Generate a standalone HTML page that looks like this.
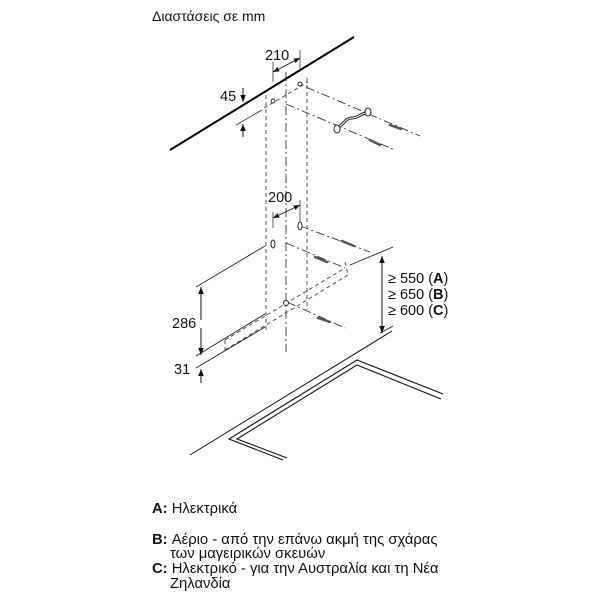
<!DOCTYPE html>
<html><head><meta charset="utf-8"><style>
html,body{margin:0;padding:0;background:#fff;}
svg{display:block;}
text{font-family:"Liberation Sans",sans-serif;fill:#111;}
</style></head><body>
<svg width="600" height="600" viewBox="0 0 600 600" xmlns="http://www.w3.org/2000/svg">
<defs>
<marker id="ar" viewBox="0 0 10 10" refX="10" refY="5" markerWidth="7" markerHeight="7" orient="auto-start-reverse"><path d="M0,1 L10,5 L0,9z" fill="#111"/></marker>
</defs>
<text x="152" y="21" font-size="14">Διαστάσεις σε mm</text>
<!-- ceiling -->
<line x1="170" y1="150" x2="354" y2="37" stroke="#000" stroke-width="2"/>
<!-- 210 dim -->
<text x="265" y="60" font-size="14.5">210</text>
<line x1="273" y1="62" x2="273" y2="82" stroke="#333" stroke-width="0.8"/>
<line x1="300" y1="50" x2="300" y2="70" stroke="#333" stroke-width="0.8"/>
<line x1="273" y1="72" x2="300" y2="58" stroke="#111" stroke-width="0.9" marker-start="url(#ar)" marker-end="url(#ar)"/>
<!-- 45 -->
<text x="220" y="101" font-size="14.5">45</text>
<line x1="243" y1="88" x2="243" y2="102" stroke="#111" marker-end="url(#ar)"/>
<line x1="243" y1="137" x2="243" y2="124" stroke="#111" marker-end="url(#ar)"/>
<line x1="236" y1="125" x2="262" y2="110" stroke="#333" stroke-width="0.8"/>
<!-- dashed verticals -->
<g stroke="#444" stroke-width="0.9" fill="none" stroke-dasharray="4,3">
<line x1="266" y1="95" x2="266" y2="330"/>
<line x1="307" y1="78" x2="307" y2="310"/>
<line x1="264" y1="108" x2="308" y2="82"/>
<line x1="225" y1="340" x2="345" y2="268"/>
<line x1="225" y1="350" x2="348" y2="275"/>
<line x1="225" y1="340" x2="225" y2="350"/>
<line x1="345" y1="262" x2="348" y2="275"/>
</g>
<!-- center dash-dot -->
<g stroke="#333" stroke-width="0.9" fill="none" stroke-dasharray="9,3,2,3">
<line x1="286" y1="72" x2="286" y2="352"/>
<line x1="286" y1="104" x2="395" y2="150"/>
<line x1="306" y1="87" x2="420" y2="136"/>
<line x1="300" y1="226" x2="370" y2="252"/>
<line x1="286" y1="243" x2="345" y2="268"/>
<line x1="287" y1="302" x2="345" y2="328"/>
</g>
<!-- holes -->
<g fill="#fff" stroke="#222" stroke-width="1">
<ellipse cx="273" cy="101" rx="2" ry="2"/>
<ellipse cx="300" cy="84" rx="2" ry="2"/>
<ellipse cx="273" cy="244" rx="2" ry="4"/>
<ellipse cx="300" cy="226" rx="2" ry="4"/>
<circle cx="286" cy="303" r="2.5"/>
</g>
<!-- screws -->
<g stroke="#555" stroke-width="2.5" stroke-linecap="round">
<line x1="370" y1="140" x2="380" y2="145"/>
<line x1="390" y1="125" x2="401" y2="129"/>
<line x1="342" y1="241" x2="354" y2="246"/>
<line x1="315" y1="257" x2="327" y2="262"/>
<line x1="318" y1="318" x2="330" y2="322"/>
</g>
<!-- bracket -->
<path d="M337,128 C345,124 345,118 352,118 C358,118 360,114 368,112" stroke="#222" stroke-width="3" fill="none"/>
<path d="M337,128 C345,124 345,118 352,118 C358,118 360,114 368,112" stroke="#fff" stroke-width="1" fill="none"/>
<ellipse cx="337" cy="129" rx="3" ry="4" fill="#fff" stroke="#222"/>
<ellipse cx="368" cy="112" rx="3" ry="4" fill="#fff" stroke="#222"/>
<!-- 200 dim -->
<text x="268" y="202" font-size="14.5">200</text>
<line x1="273" y1="212" x2="273" y2="228" stroke="#333" stroke-width="0.8"/>
<line x1="300" y1="200" x2="300" y2="222" stroke="#333" stroke-width="0.8"/>
<line x1="273" y1="218" x2="300" y2="205" stroke="#111" stroke-width="0.9" marker-start="url(#ar)" marker-end="url(#ar)"/>
<!-- hood lines -->
<g stroke="#222" stroke-width="0.9">
<line x1="196" y1="287" x2="265" y2="246"/>
<line x1="350" y1="265" x2="393" y2="247"/>
<line x1="196" y1="356" x2="265" y2="314"/>
<line x1="196" y1="368" x2="265" y2="327"/>
<line x1="380" y1="333" x2="393" y2="326"/>
</g>
<!-- 286 -->
<text x="172" y="328" font-size="14.5">286</text>
<line x1="201" y1="320" x2="201" y2="287" stroke="#111" marker-end="url(#ar)"/>
<line x1="201" y1="328" x2="201" y2="355" stroke="#111" marker-end="url(#ar)"/>
<!-- 31 -->
<text x="174" y="374" font-size="14.5">31</text>
<line x1="201" y1="383" x2="201" y2="369" stroke="#111" marker-end="url(#ar)"/>
<!-- right dim -->
<line x1="382" y1="280" x2="382" y2="256" stroke="#111" marker-end="url(#ar)"/>
<line x1="382" y1="300" x2="382" y2="333" stroke="#111" marker-end="url(#ar)"/>
<line x1="382" y1="270" x2="382" y2="310" stroke="#111"/>
<text x="388" y="283" font-size="14.5">≥ 550 (<tspan font-weight="bold">A</tspan>)</text>
<text x="388" y="299" font-size="14.5">≥ 650 (<tspan font-weight="bold">B</tspan>)</text>
<text x="388" y="315" font-size="14.5">≥ 600 (<tspan font-weight="bold">C</tspan>)</text>
<!-- counter -->
<line x1="190" y1="455" x2="392" y2="331" stroke="#111" stroke-width="1"/>
<g stroke="#111" stroke-width="1.1" fill="none">
<polyline points="283,460 229,439 357,360 443,394"/>
<polyline points="287,458 237,439 357,365 441,399"/>
</g>
<!-- legend -->
<g font-size="14.8">
<text x="152" y="513"><tspan font-weight="bold">A:</tspan> Ηλεκτρικά</text>
<text x="152" y="544"><tspan font-weight="bold">B:</tspan> Αέριο - από την επάνω ακμή της σχάρας</text>
<text x="170" y="558">των μαγειρικών σκευών</text>
<text x="152" y="573"><tspan font-weight="bold">C:</tspan> Ηλεκτρικό - για την Αυστραλία και τη Νέα</text>
<text x="170" y="588">Ζηλανδία</text>
</g>
</svg>
</body></html>
